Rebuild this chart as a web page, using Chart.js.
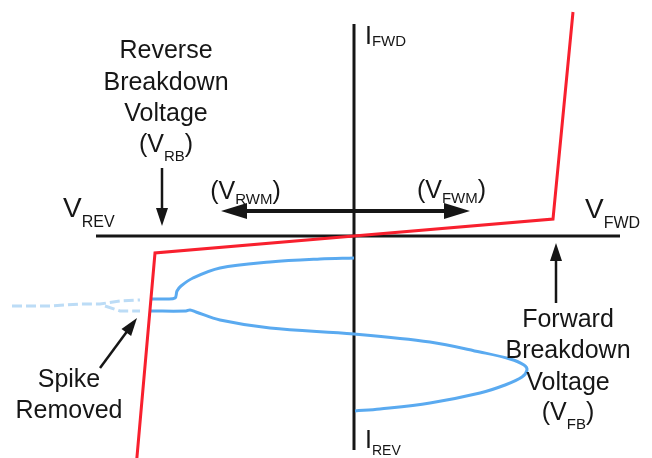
<!DOCTYPE html>
<html>
<head>
<meta charset="utf-8">
<script src="https://cdn.jsdelivr.net/npm/chart.js@4/dist/chart.umd.min.js"></script>
<style>
  html, body { margin: 0; padding: 0; background: #fff; }
  #wrap { width: 652px; height: 458px; }
</style>
</head>
<body>
<div id="wrap"><canvas id="chart"></canvas></div>
<script>
// TVS diode I-V characteristic, arbitrary voltage / current units
const xRange = [-35.4, 29.8];
const yRange = [-22.2, 23.6];

// the two axes
const axisV = [-25.8, 26.6];
const axisI = [21.2, -21.4];

// red: device clamping curve
const redV = [-21.8, -19.9, 0, 19.9, 21.9];
const redI = [-23.2, -1.7, 0, 1.7, 22.4];

// blue: transient upper branch
const blueUpV = [0, -3.4, -8.4, -13.4, -16.1, -17.3, -17.7, -17.9, -18.9, -20.4];
const blueUpI = [-2.2, -2.3, -2.6, -3.2, -4.2, -5.0, -5.5, -6.2, -6.3, -6.3];

// blue: transient lower branch and loop
const blueLoV = [-20.4, -16.8, -16.4, -15.8, -13.4, -8.4, 0, 7.6, 12.6, 15.6, 17.0, 17.3, 16.8, 15.1, 12.6, 7.6, 2.6, 0.1];
const blueLoI = [-7.5, -7.5, -7.4, -7.6, -8.4, -9.2, -9.8, -10.6, -11.6, -12.3, -12.9, -13.4, -14.1, -14.9, -15.7, -16.7, -17.3, -17.5];

// faded part where the spike was cut off
const spikeUpV = [-34.2, -30.4, -27.4, -25.4, -23.4, -21.4];
const spikeUpI = [-7.0, -7.0, -6.8, -6.8, -6.5, -6.4];
const spikeLoV = [-24.9, -23.4, -21.4];
const spikeLoI = [-7.0, -7.5, -7.5];

const pts = (xs, ys) => xs.map((x, i) => ({ x: x, y: ys[i] }));

const FONT = '"Liberation Sans", Arial, sans-serif';
const INK = '#161616';

// arrows: [x1, y1, x2, y2, width, double-headed]
const arrows = [
  [-13.3, 2.5, 11.6, 2.5, 4, true],
  [-19.2, 6.8, -19.2, 1.0, 2.5, false],
  [20.2, -6.7, 20.2, -0.7, 2.5, false],
  [-25.4, -13.2, -21.7, -8.2, 2.5, false]
];

// labels: anchor x, baseline y, alignment, runs of [text, size, drop]
const labels = [
  [-18.8, 17.8, 'center', [['Reverse', 25, 0]]],
  [-18.8, 14.6, 'center', [['Breakdown', 25, 0]]],
  [-18.8, 11.5, 'center', [['Voltage', 25, 0]]],
  [-18.8, 8.4, 'center', [['(', 25, 0], ['V', 25, 0], ['RB', 15, 9], [')', 25, 0]]],
  [-10.85, 3.7, 'center', [['(', 25, 0], ['V', 25, 0], ['RWM', 15, 5], [')', 25, 0]]],
  [9.75, 3.8, 'center', [['(', 25, 0], ['V', 25, 0], ['FWM', 15, 5], [')', 25, 0]]],
  [-29.1, 1.9, 'left', [['V', 28, 0], ['REV', 16, 10]]],
  [23.1, 1.8, 'left', [['V', 28, 0], ['FWD', 16, 10]]],
  [1.1, 19.2, 'left', [['I', 25, 0], ['FWD', 15, 2]]],
  [1.1, -21.2, 'left', [['I', 25, 0], ['REV', 14, 7]]],
  [-28.5, -15.1, 'center', [['Spike', 25, 0]]],
  [-28.5, -18.2, 'center', [['Removed', 25, 0]]],
  [21.4, -9.1, 'center', [['Forward', 25, 0]]],
  [21.4, -12.2, 'center', [['Breakdown', 25, 0]]],
  [21.4, -15.4, 'center', [['Voltage', 25, 0]]],
  [21.4, -18.4, 'center', [['(', 25, 0], ['V', 25, 0], ['FB', 15, 9], [')', 25, 0]]]
];

function drawArrow(ctx, x1, y1, x2, y2, w, both) {
  const a = Math.atan2(y2 - y1, x2 - x1);
  const hl = w > 3 ? 26 : 18;
  const hw = w > 3 ? 8 : 6;
  const cos = Math.cos(a), sin = Math.sin(a);
  const sx = both ? x1 + cos * hl * 0.8 : x1;
  const sy = both ? y1 + sin * hl * 0.8 : y1;
  ctx.lineWidth = w;
  ctx.beginPath();
  ctx.moveTo(sx, sy);
  ctx.lineTo(x2 - cos * hl * 0.8, y2 - sin * hl * 0.8);
  ctx.stroke();
  const head = (tx, ty, c, s) => {
    ctx.beginPath();
    ctx.moveTo(tx, ty);
    ctx.lineTo(tx - c * hl - s * hw, ty - s * hl + c * hw);
    ctx.lineTo(tx - c * hl + s * hw, ty - s * hl - c * hw);
    ctx.closePath();
    ctx.fill();
  };
  head(x2, y2, cos, sin);
  if (both) head(x1, y1, -cos, -sin);
}

const overlay = {
  id: 'overlay',
  afterDatasetsDraw(chart) {
    const ctx = chart.ctx;
    const xs = chart.scales.x, ys = chart.scales.y;
    ctx.save();
    ctx.strokeStyle = INK;
    ctx.fillStyle = INK;
    ctx.lineCap = 'butt';
    for (const [x1, y1, x2, y2, w, both] of arrows) {
      drawArrow(ctx, xs.getPixelForValue(x1), ys.getPixelForValue(y1),
        xs.getPixelForValue(x2), ys.getPixelForValue(y2), w, both);
    }
    ctx.textBaseline = 'alphabetic';
    ctx.textAlign = 'left';
    for (const [lx, ly, align, runs] of labels) {
      let total = 0;
      const widths = runs.map(([t, s]) => {
        ctx.font = s + 'px ' + FONT;
        const m = ctx.measureText(t).width;
        total += m;
        return m;
      });
      let px = xs.getPixelForValue(lx);
      const py = ys.getPixelForValue(ly);
      if (align === 'center') px -= total / 2;
      runs.forEach(([t, s, drop], i) => {
        ctx.font = s + 'px ' + FONT;
        ctx.fillText(t, px, py + drop);
        px += widths[i];
      });
    }
    ctx.restore();
  }
};

const line = (data, color, width, extra) => Object.assign({
  data: data, showLine: true, borderColor: color, borderWidth: width,
  pointRadius: 0, fill: false, tension: 0
}, extra || {});

new Chart(document.getElementById('chart'), {
  type: 'scatter',
  data: {
    datasets: [
      line(pts(axisV, [0, 0]), INK, 3, { order: 4 }),
      line(pts([0, 0], axisI), INK, 3, { order: 4 }),
      line(pts(spikeUpV, spikeUpI), '#bcdcf6', 3, { order: 3, borderDash: [10, 4] }),
      line(pts(spikeLoV, spikeLoI), '#bcdcf6', 3, { order: 3, borderDash: [10, 4] }),
      line(pts(blueUpV, blueUpI), '#5aaaf0', 3, { order: 2, tension: 0.35 }),
      line(pts(blueLoV, blueLoI), '#5aaaf0', 3, { order: 2, tension: 0.35 }),
      line(pts(redV, redI), '#f8202e', 3, { order: 1 })
    ]
  },
  options: {
    responsive: true,
    maintainAspectRatio: false,
    animation: false,
    layout: { padding: 0 },
    plugins: { legend: { display: false }, tooltip: { enabled: false } },
    scales: {
      x: { type: 'linear', min: xRange[0], max: xRange[1], display: false },
      y: { type: 'linear', min: yRange[0], max: yRange[1], display: false }
    }
  },
  plugins: [overlay]
});
</script>
</body>
</html>
